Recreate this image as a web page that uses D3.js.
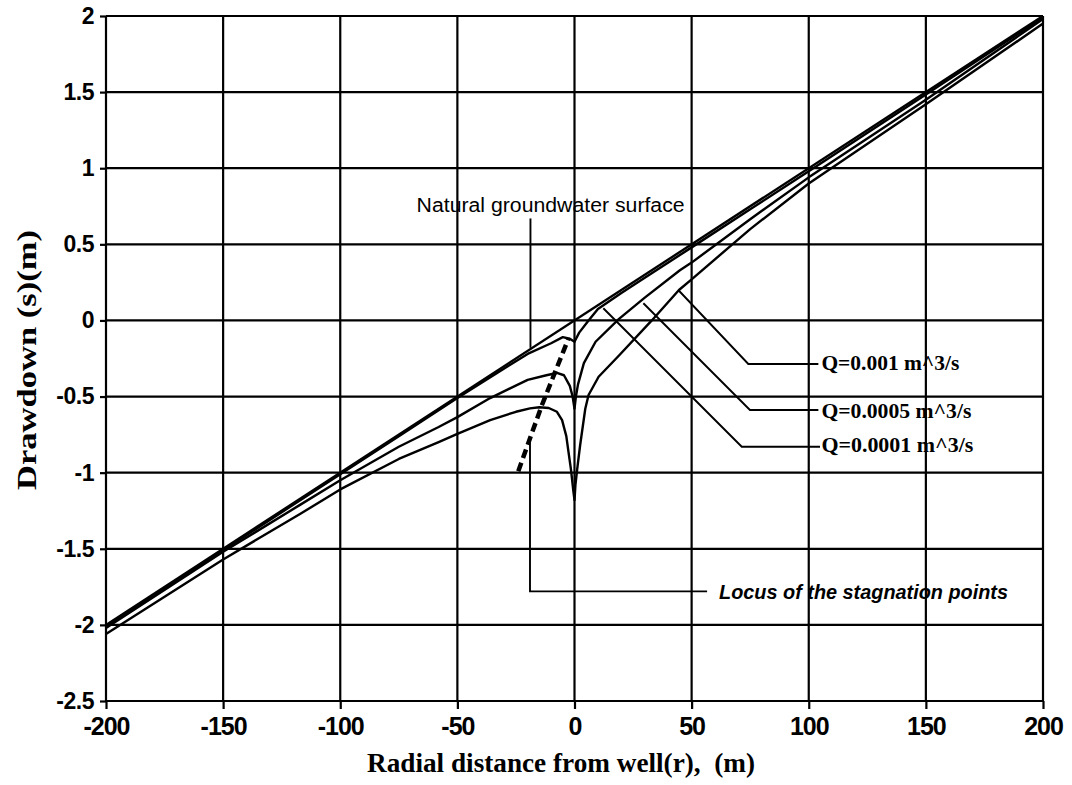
<!DOCTYPE html>
<html>
<head>
<meta charset="utf-8">
<script src="https://cdn.jsdelivr.net/npm/d3@7"></script>
<style>
body { margin: 0; background: #ffffff; }
</style>
</head>
<body>
<div id="chart"></div>
<script>

// Axis ticks
const xTicks = [-200, -150, -100, -50, 0, 50, 100, 150, 200];
const yTicks = [2, 1.5, 1, 0.5, 0, -0.5, -1, -1.5, -2, -2.5];

// Natural groundwater surface (no pumping)
const rNatural = [-200, 200];
const sNatural = [-2, 2];

// Q = 0.0001 m^3/s
const rQ1 = [-200, -150, -100, -75, -50, -30, -20, -10, -5, -2, 0, 2, 6, 10, 20, 30, 50, 75, 100, 150, 200];
const sQ1 = [-2.01, -1.51, -1.01, -0.76, -0.51, -0.315, -0.22, -0.15, -0.11, -0.12, -0.14, -0.08, 0.0, 0.075, 0.18, 0.28, 0.48, 0.73, 0.98, 1.485, 1.99];

// Q = 0.0005 m^3/s
const rQ5 = [-200, -150, -117, -100, -75, -58, -50, -36, -20, -12, -7.5, -4.5, -2, -0.8, 0, 0.6, 1.5, 4, 9, 19, 30, 45, 50, 75, 100, 150, 200];
const sQ5 = [-2.02, -1.52, -1.21, -1.05, -0.83, -0.70, -0.635, -0.51, -0.39, -0.36, -0.345, -0.36, -0.43, -0.5, -0.58, -0.5, -0.42, -0.28, -0.14, 0.01, 0.15, 0.33, 0.38, 0.665, 0.94, 1.45, 1.98];

// Q = 0.001 m^3/s
const rQ10 = [-200, -150, -117, -100, -75, -58, -50, -36, -25, -19, -15, -11, -7.5, -5.3, -3.5, -2.6, -1.5, -0.5, 0, 0.4, 1.2, 2.4, 4.6, 6, 10.3, 19, 33, 44.6, 50, 75, 100, 150, 200];
const sQ10 = [-2.06, -1.57, -1.27, -1.11, -0.91, -0.80, -0.745, -0.655, -0.60, -0.578, -0.57, -0.575, -0.60, -0.655, -0.76, -0.86, -0.98, -1.12, -1.18, -1.08, -0.97, -0.82, -0.58, -0.49, -0.37, -0.23, 0.0, 0.2, 0.27, 0.6, 0.9, 1.42, 1.95];

// Locus of the stagnation points (dashed)
const rLocus = [-24, -14, -8.3, -2.6];
const sLocus = [-0.99, -0.56, -0.34, -0.12];

const width = 1072, height = 785;

const svg = d3.select('#chart')
    .append('svg')
    .attr('width', width)
    .attr('height', height)
    .style('font-family', '"Liberation Sans", Arial, sans-serif');

const scaleX = d3.scaleLinear().domain([-200, 200]).range([106, 1043]);
const scaleY = d3.scaleLinear().domain([-2.5, 2]).range([701, 16]);

// Grid (also makes the frame)
svg.append('g')
    .selectAll('line')
    .data(xTicks)
    .enter()
    .append('line')
    .attr('x1', d => scaleX(d))
    .attr('x2', d => scaleX(d))
    .attr('y1', scaleY(-2.5))
    .attr('y2', scaleY(2))
    .style('stroke', '#000')
    .style('stroke-width', 2.2);

svg.append('g')
    .selectAll('line')
    .data(yTicks)
    .enter()
    .append('line')
    .attr('x1', scaleX(-200))
    .attr('x2', scaleX(200))
    .attr('y1', d => scaleY(d))
    .attr('y2', d => scaleY(d))
    .style('stroke', '#000')
    .style('stroke-width', 2.2);

// Axes
const xAxis = d3.axisBottom(scaleX).tickValues(xTicks).tickSize(8).tickPadding(8).tickFormat(d => String(d));
const yAxis = d3.axisLeft(scaleY).tickValues(yTicks).tickSize(6).tickPadding(6).tickFormat(d => String(d));

const xAxisGroup = svg.append('g')
    .attr('transform', 'translate(0,' + scaleY(-2.5) + ')')
    .call(xAxis);
const yAxisGroup = svg.append('g')
    .attr('transform', 'translate(' + scaleX(-200) + ',0)')
    .call(yAxis);

[xAxisGroup, yAxisGroup].forEach(g => {
    g.select('.domain').remove();
    g.selectAll('.tick line').style('stroke', '#000').style('stroke-width', 2.2);
    g.selectAll('.tick text')
        .style('fill', '#000')
        .style('font-family', '"Liberation Sans", Arial, sans-serif')
        .style('font-weight', 'bold');
});
xAxisGroup.selectAll('.tick text').style('font-size', '25px').style('letter-spacing', '-1px');
yAxisGroup.selectAll('.tick text').style('font-size', '23px').style('letter-spacing', '-0.5px');

// Curves
const line = d3.line()
    .x(d => scaleX(d[0]))
    .y(d => scaleY(d[1]));

const series = [
    [rNatural, sNatural],
    [rQ1, sQ1],
    [rQ5, sQ5],
    [rQ10, sQ10]
];

series.forEach(s => {
    const pts = s[0].map((r, i) => [r, s[1][i]]);
    svg.append('path')
        .datum(pts)
        .attr('d', line)
        .style('fill', 'none')
        .style('stroke', '#000')
        .style('stroke-width', 2.4)
        .style('stroke-linejoin', 'round');
});

svg.append('path')
    .datum(rLocus.map((r, i) => [r, sLocus[i]]))
    .attr('d', line)
    .style('fill', 'none')
    .style('stroke', '#000')
    .style('stroke-width', 4.5)
    .style('stroke-dasharray', '9,5');

// Leader lines for the annotations
function addLeader(pts) {
    svg.append('path')
        .datum(pts)
        .attr('d', line)
        .style('fill', 'none')
        .style('stroke', '#000')
        .style('stroke-width', 1.9);
}

addLeader([[-18.8, 0.67], [-18.8, -0.18]]);
addLeader([[-19, -0.8], [-19, -1.78], [56.6, -1.78]]);
addLeader([[44.3, 0.2], [74.2, -0.286], [104.1, -0.286]]);
addLeader([[29.4, 0.113], [74.9, -0.588], [104.1, -0.588]]);
addLeader([[12.3, 0.08], [71.4, -0.83], [104.8, -0.83]]);

// Annotation texts
svg.append('text')
    .attr('x', scaleX(-67.4))
    .attr('y', scaleY(0.712))
    .attr('textLength', 268)
    .attr('lengthAdjust', 'spacingAndGlyphs')
    .style('font-size', '20px')
    .style('fill', '#000')
    .text('Natural groundwater surface');

svg.append('text')
    .attr('x', scaleX(61.7))
    .attr('y', scaleY(-1.83))
    .attr('textLength', 289)
    .attr('lengthAdjust', 'spacingAndGlyphs')
    .style('font-size', '21px')
    .style('font-style', 'italic')
    .style('font-weight', 'bold')
    .style('fill', '#000')
    .text('Locus of the stagnation points');

const qLabels = [
    ['Q=0.001 m^3/s', -0.326, 138],
    ['Q=0.0005 m^3/s', -0.643, 150],
    ['Q=0.0001 m^3/s', -0.862, 152]
];
qLabels.forEach(q => {
    svg.append('text')
        .attr('x', scaleX(105.4))
        .attr('y', scaleY(q[1]))
        .attr('textLength', q[2])
        .attr('lengthAdjust', 'spacingAndGlyphs')
        .style('font-family', '"Liberation Serif", "Times New Roman", serif')
        .style('font-weight', 'bold')
        .style('font-size', '21px')
        .style('fill', '#000')
        .text(q[0]);
});

// Axis titles
svg.append('text')
    .attr('x', 367)
    .attr('y', 772)
    .attr('textLength', 388)
    .attr('lengthAdjust', 'spacingAndGlyphs')
    .style('white-space', 'pre')
    .style('font-family', '"Liberation Serif", "Times New Roman", serif')
    .style('font-weight', 'bold')
    .style('font-size', '28px')
    .style('fill', '#000')
    .text('Radial distance from well(r),  (m)');

svg.append('text')
    .attr('transform', 'translate(36,360) rotate(-90)')
    .attr('text-anchor', 'middle')
    .attr('textLength', 260)
    .attr('lengthAdjust', 'spacingAndGlyphs')
    .style('font-family', '"Liberation Serif", "Times New Roman", serif')
    .style('font-weight', 'bold')
    .style('font-size', '27px')
    .style('fill', '#000')
    .text('Drawdown (s)(m)');

</script>
</body>
</html>
